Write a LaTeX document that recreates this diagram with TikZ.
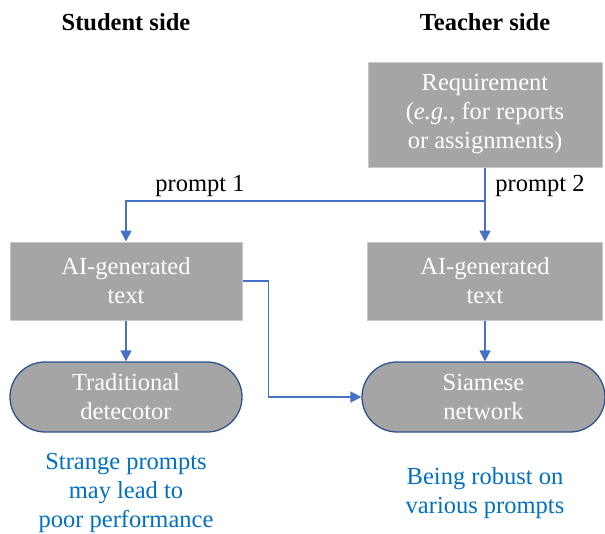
\documentclass[tikz,border=0pt]{standalone}
\usepackage{fontspec}
\setmainfont{Liberation Serif}
\usetikzlibrary{arrows.meta}
\definecolor{boxgray}{HTML}{A5A5A5}
\definecolor{boxedge}{HTML}{C9C9C9}
\definecolor{arrowblue}{HTML}{4472C4}
\definecolor{edgeblue}{HTML}{2F528F}
\definecolor{noteblue}{HTML}{0070C0}
\tikzset{
  base/.style={font=\fontsize{24.5}{29}\selectfont, align=center, inner sep=0pt},
  graybox/.style={base, fill=boxgray, draw=boxedge, line width=1pt, text=white},
  pill/.style={base, fill=boxgray, draw=edgeblue, line width=1.3pt, text=white, rounded corners=35pt},
  conn/.style={draw=arrowblue, line width=1.6pt, -{Triangle[length=11pt,width=11pt]}},
  lbl/.style={base, text=black},
  note/.style={base, text=noteblue},
  head/.style={font=\fontsize{24.5}{29}\selectfont\bfseries, inner sep=0pt}
}
\begin{document}
\begin{tikzpicture}[x=1pt,y=-1pt]
\useasboundingbox (0,0) rectangle (605,533);
\node[head] (hs) at (126,22) {Student side};
\node[head] (ht) at (485,22) {Teacher side};
\node[graybox, minimum width=234pt, minimum height=105pt] (req) at (485,114.5)
  {Requirement\\(\textit{e.g.}, for reports\\or assignments)};
\node[graybox, minimum width=232pt, minimum height=78pt] (ai1) at (126,281) {AI-generated\\text};
\node[graybox, minimum width=235pt, minimum height=78pt] (ai2) at (485,281) {AI-generated\\text};
\node[pill, minimum width=232pt, minimum height=70pt] (det) at (126,397) {Traditional\\detecotor};
\node[pill, minimum width=243pt, minimum height=70pt] (siam) at (483.5,397) {Siamese\\network};
\coordinate (j) at (485,201);
\draw[draw=arrowblue, line width=1.6pt] (req.south) -- (j);
\draw[conn] (j) -- (ai2.north);
\draw[conn] (j) -| (ai1.north);
\draw[conn] (ai1.east) -- ++(26,0) |- (siam.west);
\draw[conn] (ai1.south) -- (det.north);
\draw[conn] (ai2.south) -- (ai2.south |- siam.north);
\node[lbl] (p1) at (200,186) {prompt 1};
\node[lbl] (p2) at (540,186) {prompt 2};
\node[note] (n1) at (126,493) {Strange prompts\\may lead to\\poor performance};
\node[note] (n2) at (485,493) {Being robust on\\various prompts};
\end{tikzpicture}
\end{document}
